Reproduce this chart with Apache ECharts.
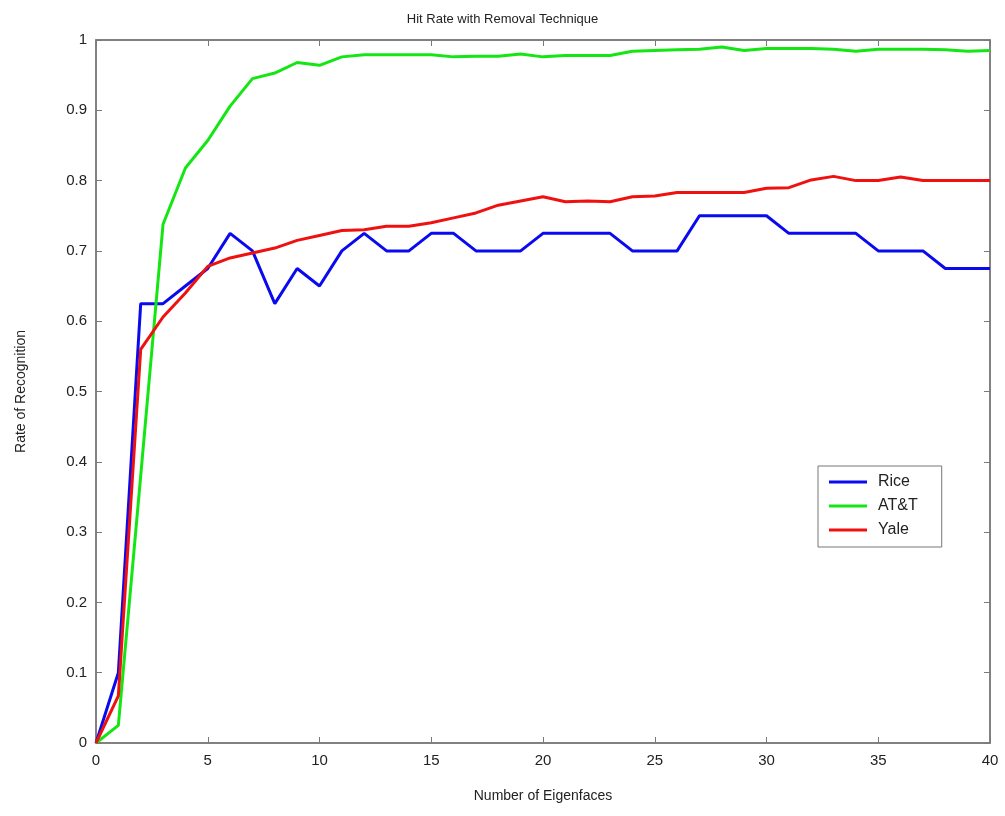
<!DOCTYPE html>
<html>
<head>
<meta charset="utf-8">
<script src="https://cdn.jsdelivr.net/npm/echarts@6/dist/echarts.min.js"></script>
<style>
  html, body { margin: 0; padding: 0; background: #fff; }
  #chart { width: 1005px; height: 816px; }
</style>
</head>
<body>
<div id="chart"></div>
<script>
// Number of eigenfaces used (0..40)
const eigenfaces = Array.from({ length: 41 }, (_, i) => i);

// Recognition rate per database
const rice = [0, 0.1, 0.625, 0.625, 0.65, 0.675, 0.725, 0.7, 0.625, 0.675,
  0.65, 0.7, 0.725, 0.7, 0.7, 0.725, 0.725, 0.7, 0.7, 0.7,
  0.725, 0.725, 0.725, 0.725, 0.7, 0.7, 0.7, 0.75, 0.75, 0.75,
  0.75, 0.725, 0.725, 0.725, 0.725, 0.7, 0.7, 0.7, 0.675, 0.675, 0.675];

const att = [0, 0.025, 0.38, 0.738, 0.818, 0.857, 0.906, 0.945, 0.953, 0.968,
  0.964, 0.976, 0.979, 0.979, 0.979, 0.979, 0.976, 0.977, 0.977, 0.98,
  0.976, 0.978, 0.978, 0.978, 0.984, 0.985, 0.986, 0.987, 0.99, 0.985,
  0.988, 0.988, 0.988, 0.987, 0.984, 0.987, 0.987, 0.987, 0.986, 0.984, 0.985];

const yale = [0, 0.067, 0.56, 0.606, 0.64, 0.678, 0.69, 0.697, 0.704, 0.715,
  0.722, 0.729, 0.73, 0.735, 0.735, 0.74, 0.747, 0.754, 0.765, 0.771,
  0.777, 0.77, 0.771, 0.77, 0.777, 0.778, 0.783, 0.783, 0.783, 0.783,
  0.789, 0.79, 0.801, 0.806, 0.8, 0.8, 0.805, 0.8, 0.8, 0.8, 0.8];

const seriesNames = ['Rice', 'AT&T', 'Yale'];
const seriesColors = ['#0a0aee', '#14e614', '#f01010'];
const yTicks = [0, 0.1, 0.2, 0.3, 0.4, 0.5, 0.6, 0.7, 0.8, 0.9, 1];

const font = 'Liberation Sans, Arial, sans-serif';
const axisGray = '#7a7a7a';

function pairs(vals) {
  return eigenfaces.map((x, i) => [x, vals[i]]);
}

const baseX = {
  type: 'value', min: 0, max: 40, interval: 5,
  axisLine: { show: true, onZero: false, lineStyle: { color: axisGray, width: 1.5 } },
  axisTick: { show: true, inside: true, length: 6, lineStyle: { color: axisGray } },
  splitLine: { show: false }
};
const baseY = {
  type: 'value', min: 0, max: 1, interval: 0.1,
  axisLine: { show: true, onZero: false, lineStyle: { color: axisGray, width: 1.5 } },
  axisTick: { show: true, inside: true, length: 6, lineStyle: { color: axisGray } },
  splitLine: { show: false }
};

const dataSeries = [rice, att, yale].map((vals, i) => ({
  name: seriesNames[i],
  type: 'line',
  xAxisIndex: 0, yAxisIndex: 0,
  data: pairs(vals),
  showSymbol: false,
  symbol: 'none',
  lineStyle: { width: 3, color: seriesColors[i] },
  itemStyle: { color: seriesColors[i] }
}));

// Invisible series that keeps the mirrored top/right axes alive
const frameSeries = {
  name: 'frame',
  type: 'line',
  xAxisIndex: 1, yAxisIndex: 1,
  data: [[0, 0], [40, 1]],
  symbol: 'none',
  silent: true,
  lineStyle: { opacity: 0 }
};

const chart = echarts.init(document.getElementById('chart'));
chart.setOption({
  backgroundColor: '#fff',
  animation: false,
  title: {
    text: 'Hit Rate with Removal Technique',
    left: 'center', top: 8,
    textStyle: { fontFamily: font, fontSize: 13, fontWeight: 'normal', color: '#222' }
  },
  grid: {
    left: 96, right: 15, top: 40, bottom: 73,
    show: true, borderColor: axisGray, borderWidth: 1.5, backgroundColor: 'transparent'
  },
  legend: {
    data: seriesNames,
    orient: 'vertical',
    left: 818, top: 466,
    icon: 'rect',
    itemWidth: 38, itemHeight: 3, itemGap: 8,
    padding: [8, 24, 9, 11],
    borderColor: '#777', borderWidth: 1,
    backgroundColor: '#fff',
    textStyle: { fontFamily: font, fontSize: 16, color: '#222', padding: [0, 0, 0, 6] }
  },
  xAxis: [
    Object.assign({}, baseX, {
      position: 'bottom',
      name: 'Number of Eigenfaces',
      nameLocation: 'middle', nameGap: 46,
      nameTextStyle: { fontFamily: font, fontSize: 14, color: '#222' },
      axisLabel: { fontFamily: font, fontSize: 15, color: '#222', margin: 10 }
    }),
    Object.assign({}, baseX, { position: 'top', axisLabel: { show: false } })
  ],
  yAxis: [
    Object.assign({}, baseY, {
      position: 'left',
      name: 'Rate of Recognition',
      nameLocation: 'middle', nameGap: 68,
      nameTextStyle: { fontFamily: font, fontSize: 14, color: '#222' },
      axisLabel: {
        fontFamily: font, fontSize: 15, color: '#222', margin: 9,
        formatter: v => yTicks.includes(+v.toFixed(1)) ? String(+v.toFixed(1)) : ''
      }
    }),
    Object.assign({}, baseY, { position: 'right', axisLabel: { show: false } })
  ],
  series: dataSeries.concat([frameSeries])
});
</script>
</body>
</html>
